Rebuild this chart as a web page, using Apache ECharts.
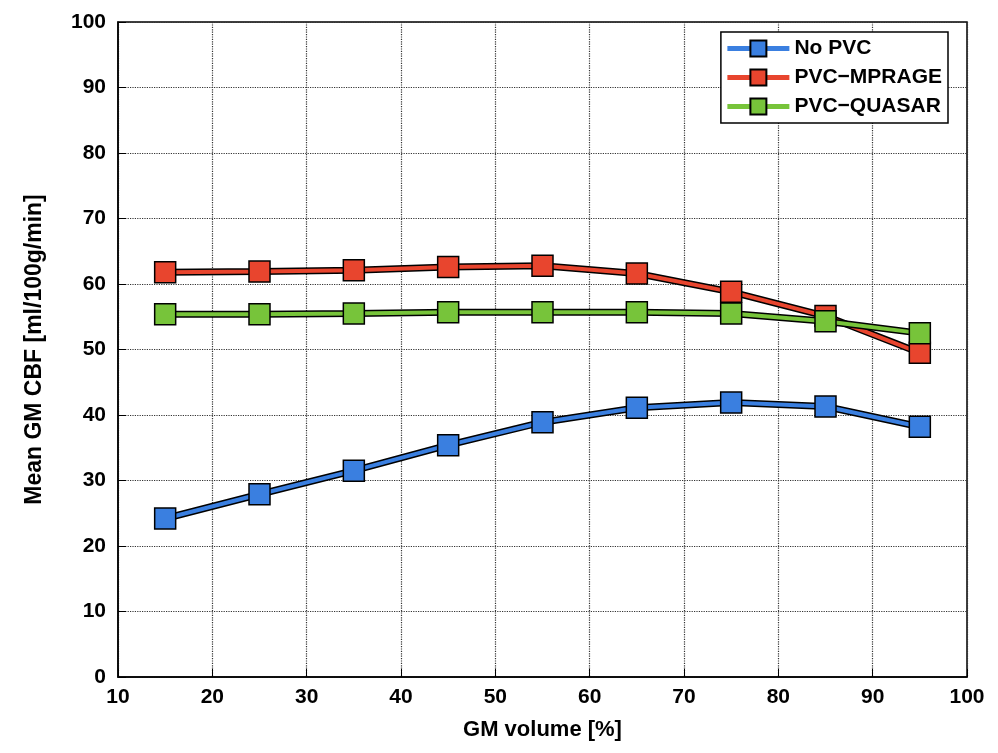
<!DOCTYPE html>
<html><head><meta charset="utf-8">
<script src="https://cdn.jsdelivr.net/npm/echarts@6/dist/echarts.min.js"></script>
<style>html,body{margin:0;background:#fff}#main{width:998px;height:753px}</style>
</head><body><div id="main"></div>
<script>
let gmVolume = [15, 25, 35, 45, 55, 65, 75, 85, 95];
let noPvc = [24.2, 27.9, 31.5, 35.4, 38.9, 41.1, 41.9, 41.3, 38.2];
let pvcMprage = [61.8, 61.9, 62.1, 62.6, 62.8, 61.6, 58.8, 55.1, 49.5];
let pvcQuasar = [55.4, 55.4, 55.5, 55.7, 55.7, 55.7, 55.5, 54.3, 52.5];

let names = ['No PVC', 'PVC\u2212MPRAGE', 'PVC\u2212QUASAR'];
let colors = ['#3a7fe0', '#e8452e', '#77c43a'];
let sets = [noPvc, pvcMprage, pvcQuasar];

let series = [];
sets.forEach(function (vals, i) {
    let pts = gmVolume.map(function (x, k) { return [x, vals[k]]; });
    series.push({
        type: 'line', data: pts, symbol: 'none', silent: true,
        lineStyle: { color: '#000', width: 7 }, z: 2 + i * 2
    });
    series.push({
        name: names[i], type: 'line', data: pts,
        symbol: 'rect', symbolSize: 21,
        itemStyle: { color: colors[i], borderColor: '#000', borderWidth: 1.5 },
        lineStyle: { color: colors[i], width: 4 }, z: 3 + i * 2
    });
});

let axisText = { color: '#000', fontSize: 21, fontWeight: 'bold', fontFamily: 'Liberation Sans' };
let grid = { type: 'dotted', color: '#333', width: 1.2 };

let myChart = echarts.init(document.getElementById('main'));
myChart.setOption({
    animation: false,
    grid: { left: 118, right: 31, top: 22, bottom: 76, show: true, borderColor: '#000', borderWidth: 1.5 },
    legend: {
        data: names, orient: 'vertical', right: 50, top: 32,
        backgroundColor: '#fff', borderColor: '#000', borderWidth: 1.5,
        padding: [6, 6, 6, 4], itemGap: 8, itemWidth: 62, itemHeight: 20,
        lineStyle: { width: 5 },
        textStyle: { color: '#000', fontSize: 21, fontWeight: 'bold', fontFamily: 'Liberation Sans' }
    },
    xAxis: {
        type: 'value', min: 10, max: 100, interval: 10,
        name: 'GM volume [%]', nameLocation: 'middle', nameGap: 42,
        nameTextStyle: Object.assign({}, axisText, { fontSize: 22 }),
        axisLabel: Object.assign({ margin: 10 }, axisText),
        axisLine: { lineStyle: { color: '#000', width: 1.5 } },
        axisTick: { inside: true, length: 8, lineStyle: { color: '#000' } },
        splitLine: { lineStyle: grid }
    },
    yAxis: {
        type: 'value', min: 0, max: 100, interval: 10,
        name: 'Mean GM CBF [ml/100g/min]', nameLocation: 'middle', nameGap: 72,
        nameTextStyle: Object.assign({}, axisText, { fontSize: 23 }),
        axisLabel: Object.assign({ margin: 12 }, axisText),
        axisLine: { lineStyle: { color: '#000', width: 1.5 } },
        axisTick: { inside: true, length: 8, lineStyle: { color: '#000' } },
        splitLine: { lineStyle: grid }
    },
    series: series
});
</script></body></html>
